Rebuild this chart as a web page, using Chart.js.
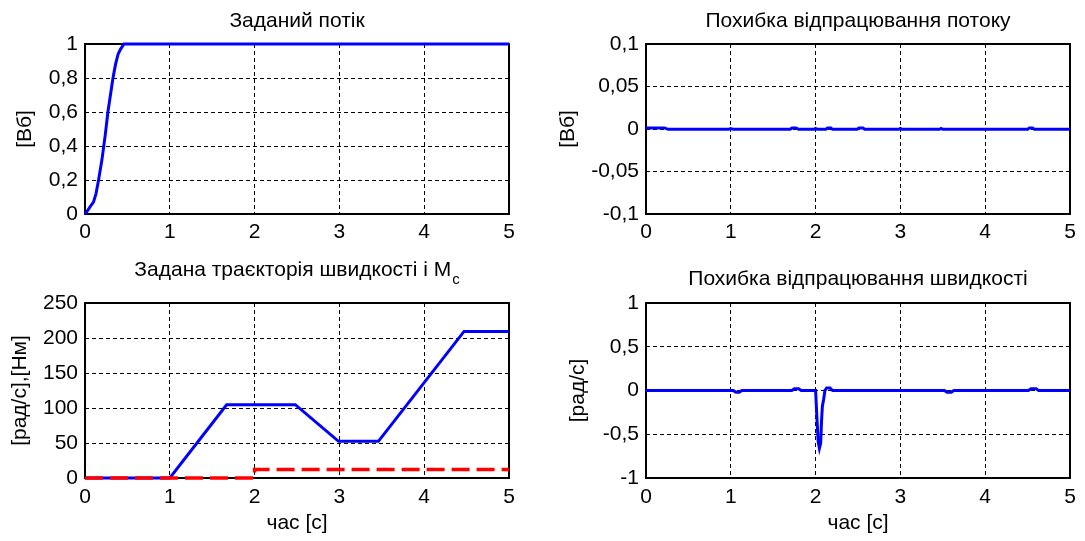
<!DOCTYPE html>
<html>
<head>
<meta charset="utf-8">
<title>Потік і швидкість</title>
<script src="https://cdn.jsdelivr.net/npm/chart.js@4.4.0/dist/chart.umd.min.js"></script>
<style>
  html, body { margin: 0; padding: 0; background: #fff; }
  #wrap { position: relative; width: 1085px; height: 541px; overflow: hidden; }
  canvas { position: absolute; }
</style>
</head>
<body>
<div id="wrap">
  <canvas id="fluxRef" width="545" height="255" style="left:0;top:0"></canvas>
  <canvas id="fluxErr" width="540" height="255" style="left:545px;top:0"></canvas>
  <canvas id="speedRef" width="545" height="286" style="left:0;top:255px"></canvas>
  <canvas id="speedErr" width="540" height="286" style="left:545px;top:255px"></canvas>
</div>
<script>
(function () {
  'use strict';

  const FONT = '"Liberation Sans", Arial, sans-serif';
  const FONT_SIZE = 21;

  // ── Data ────────────────────────────────────────────────────────────────
  const timeTicks = [0, 1, 2, 3, 4, 5];
  const timeTickLabels = ['0', '1', '2', '3', '4', '5'];

  // Заданий потік
  const fluxTime = [0, 0.03, 0.07, 0.1, 0.13, 0.16, 0.2, 0.24, 0.27, 0.3, 0.33, 0.36, 0.39, 0.42, 0.46, 5];
  const fluxValues = [0, 0.02, 0.05, 0.07, 0.12, 0.2, 0.32, 0.47, 0.6, 0.7, 0.8, 0.88, 0.94, 0.97, 1.0, 1.0];
  const fluxTicks = [0, 0.2, 0.4, 0.6, 0.8, 1];
  const fluxTickLabels = ['0', '0,2', '0,4', '0,6', '0,8', '1'];

  // Похибка відпрацювання потоку
  const fluxErrTime = [0, 0.22, 0.26, 0.97, 1.0, 1.03, 1.7, 1.72, 1.77, 1.8, 1.98, 2.0, 2.02, 2.12, 2.14, 2.18, 2.2,
    2.49, 2.51, 2.56, 2.58, 2.98, 3.0, 3.02, 3.46, 3.48, 3.5, 4.5, 4.52, 4.56, 4.58, 5];
  const fluxErrValues = [0.0012, 0.0012, -0.0004, -0.0004, 0.0006, -0.0004, -0.0004, 0.0012, 0.0012, -0.0004, -0.0004,
    0.0006, -0.0004, -0.0004, 0.0012, 0.0012, -0.0004, -0.0004, 0.0012, 0.0012, -0.0004, -0.0004, 0.0006, -0.0004,
    -0.0004, 0.0006, -0.0004, -0.0004, 0.0012, 0.0012, -0.0004, -0.0004];
  const fluxErrTicks = [-0.1, -0.05, 0, 0.05, 0.1];
  const fluxErrTickLabels = ['-0,1', '-0,05', '0', '0,05', '0,1'];

  // Задана траєкторія швидкості і Mc
  const speedRefTime = [0, 1.0, 1.67, 2.48, 2.99, 3.46, 4.47, 5];
  const speedRefValues = [0, 0, 104.7, 104.7, 52.4, 52.4, 209.4, 209.4];
  const loadTime = [0, 2.0, 2.0, 5];
  const loadValues = [0, 0, 12, 12];
  const speedTicks = [0, 50, 100, 150, 200, 250];
  const speedTickLabels = ['0', '50', '100', '150', '200', '250'];

  // Похибка відпрацювання швидкості
  const speedErrTime = [0, 1.03, 1.06, 1.1, 1.13, 1.72, 1.75, 1.8, 1.83, 2.0, 2.015, 2.03, 2.045, 2.06, 2.07,
    2.08, 2.095, 2.11, 2.13, 2.17, 2.2, 3.52, 3.55, 3.6, 3.63, 4.51, 4.54, 4.6, 4.63, 5];
  const speedErrValues = [0, 0, -0.02, -0.02, 0, 0, 0.02, 0.02, 0, 0, -0.3, -0.58, -0.66, -0.6, -0.35,
    -0.18, -0.1, 0, 0.03, 0.03, 0, 0, -0.02, -0.02, 0, 0, 0.02, 0.02, 0, 0];
  const speedErrTicks = [-1, -0.5, 0, 0.5, 1];
  const speedErrTickLabels = ['-1', '-0,5', '0', '0,5', '1'];

  const toPoints = (xs, ys) => xs.map((x, i) => ({ x: x, y: ys[i] }));

  // ── Box + panel title ───────────────────────────────────────────────────
  const panelFrame = {
    id: 'panelFrame',
    beforeDatasetsDraw(chart) {
      const { ctx, chartArea: a } = chart;
      ctx.save();
      ctx.strokeStyle = '#000';
      ctx.lineWidth = 2;
      ctx.strokeRect(a.left, a.top, a.right - a.left, a.bottom - a.top);
      ctx.restore();
    },
    afterDraw(chart, args, o) {
      const { ctx, chartArea: a } = chart;
      ctx.save();
      ctx.fillStyle = '#000';
      ctx.textBaseline = 'alphabetic';
      ctx.textAlign = 'left';
      ctx.font = FONT_SIZE + 'px ' + FONT;
      const w = ctx.measureText(o.text).width;
      let sw = 0;
      if (o.sub) {
        ctx.font = '15px ' + FONT;
        sw = ctx.measureText(o.sub).width + 1;
      }
      const x0 = (a.left + a.right) / 2 - (w + sw) / 2;
      ctx.font = FONT_SIZE + 'px ' + FONT;
      ctx.fillText(o.text, x0, o.baseline);
      if (o.sub) {
        ctx.font = '15px ' + FONT;
        ctx.fillText(o.sub, x0 + w + 1, o.baseline + 8);
      }
      ctx.restore();
    },
  };

  const blueLine = (data) => ({
    data: data, borderColor: '#0000ff', borderWidth: 3, pointRadius: 0, fill: false, clip: 4, order: 2,
  });

  function makePanel(id, p) {
    const canvas = document.getElementById(id);
    const W = canvas.width;
    const H = canvas.height;
    const tickFont = { family: FONT, size: FONT_SIZE };
    const grid = { color: '#000', lineWidth: 1, drawTicks: false, borderDash: [4, 3] };
    const border = { display: false, dash: [4, 3] };

    return new Chart(canvas, {
      type: 'line',
      data: { datasets: p.datasets },
      options: {
        responsive: false,
        animation: false,
        devicePixelRatio: 1,
        layout: { padding: { left: 0, top: p.area.top, right: W - p.area.right, bottom: 0 } },
        plugins: {
          legend: { display: false },
          tooltip: { enabled: false },
          panelFrame: { text: p.title, sub: p.sub, baseline: p.baseline },
        },
        scales: {
          x: {
            type: 'linear',
            min: 0,
            max: 5,
            afterBuildTicks: (s) => { s.ticks = timeTicks.map((v) => ({ value: v })); },
            afterFit: (s) => { s.height = H - p.area.bottom; },
            ticks: {
              callback: (v, i) => timeTickLabels[i],
              padding: p.xTickPad, maxRotation: 0, autoSkip: false, color: '#000', font: tickFont,
            },
            grid: grid,
            border: border,
            title: p.xTitle
              ? { display: true, text: p.xTitle, color: '#000', font: tickFont, padding: { top: 0, bottom: 5.4 } }
              : { display: false },
          },
          y: {
            type: 'linear',
            min: p.yTicks[0],
            max: p.yTicks[p.yTicks.length - 1],
            afterBuildTicks: (s) => { s.ticks = p.yTicks.map((v) => ({ value: v })); },
            afterFit: (s) => { s.width = p.area.left; },
            ticks: {
              callback: (v, i) => p.yLabels[i],
              padding: 7, autoSkip: false, color: '#000', font: tickFont,
            },
            grid: grid,
            border: border,
            title: { display: true, text: p.yTitle, color: '#000', font: tickFont, padding: { top: p.yTitlePad, bottom: 0 } },
          },
        },
      },
      plugins: [panelFrame],
    });
  }

  // ── Panels ──────────────────────────────────────────────────────────────
  makePanel('fluxRef', {
    datasets: [blueLine(toPoints(fluxTime, fluxValues))],
    yTicks: fluxTicks, yLabels: fluxTickLabels, yTitle: '[Вб]', yTitlePad: 12.4, xTickPad: 6,
    area: { left: 85, top: 44, right: 509, bottom: 214 },
    title: 'Заданий потік', baseline: 27,
  });

  makePanel('fluxErr', {
    datasets: [blueLine(toPoints(fluxErrTime, fluxErrValues))],
    yTicks: fluxErrTicks, yLabels: fluxErrTickLabels, yTitle: '[Вб]', yTitlePad: 10.9, xTickPad: 6,
    area: { left: 101, top: 44, right: 525, bottom: 214 },
    title: 'Похибка відпрацювання потоку', baseline: 27,
  });

  makePanel('speedRef', {
    datasets: [
      {
        data: toPoints(loadTime, loadValues), borderColor: '#ff0000', borderWidth: 3.5,
        borderDash: [18, 7], pointRadius: 0, fill: false, clip: 4, order: 1,
      },
      blueLine(toPoints(speedRefTime, speedRefValues)),
    ],
    yTicks: speedTicks, yLabels: speedTickLabels, yTitle: '[рад/с],[Нм]', yTitlePad: 8.1, xTickPad: 7,
    xTitle: 'час [с]',
    area: { left: 85, top: 48, right: 509, bottom: 223 },
    title: 'Задана траєкторія швидкості і M', sub: 'c', baseline: 21,
  });

  makePanel('speedErr', {
    datasets: [blueLine(toPoints(speedErrTime, speedErrValues))],
    yTicks: speedErrTicks, yLabels: speedErrTickLabels, yTitle: '[рад/с]', yTitlePad: 20.4, xTickPad: 7,
    xTitle: 'час [с]',
    area: { left: 101, top: 48, right: 525, bottom: 223 },
    title: 'Похибка відпрацювання швидкості', baseline: 30,
  });
})();
</script>
</body>
</html>
